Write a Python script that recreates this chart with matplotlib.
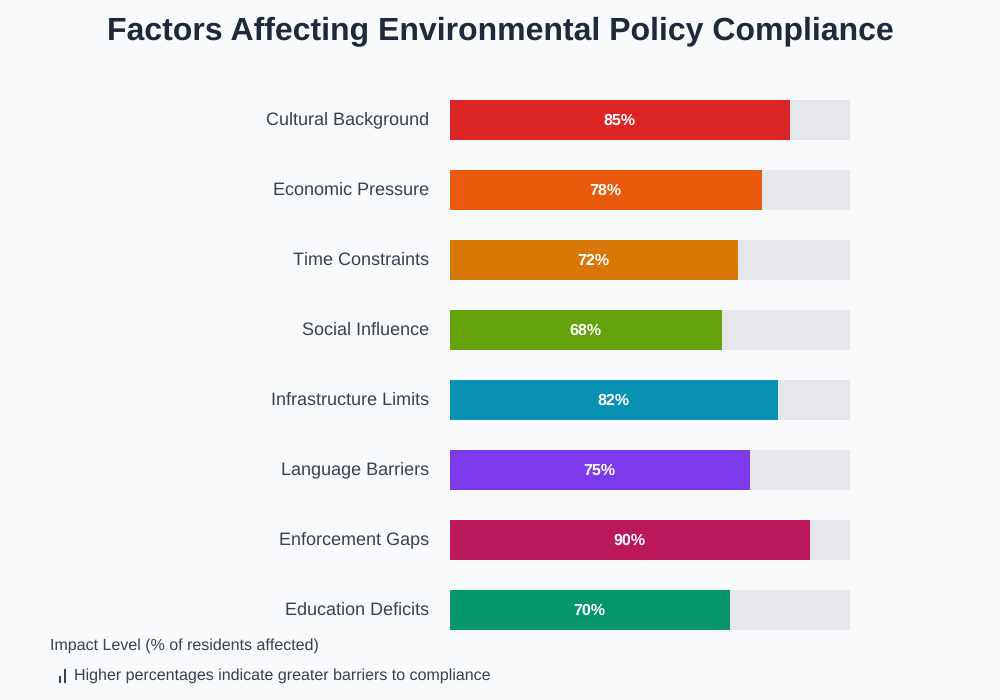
import matplotlib
matplotlib.use('Agg')
import matplotlib.pyplot as plt

plt.rcParams['font.family'] = ['Liberation Sans', 'DejaVu Sans']
plt.rcParams['text.hinting'] = 'no_hinting'
plt.rcParams['text.hinting_factor'] = 1

factors = ['Cultural Background', 'Economic Pressure', 'Time Constraints', 'Social Influence',
           'Infrastructure Limits', 'Language Barriers', 'Enforcement Gaps', 'Education Deficits']
values = [85, 78, 72, 68, 82, 75, 90, 70]
colors = ['#dc2626', '#ea580c', '#d97706', '#65a30d', '#0891b2', '#7c3aed', '#be185d', '#059669']

fig = plt.figure(figsize=(10, 7), dpi=100, facecolor='#f8fafc')

# axes box: x 450-850 px is 0-100 percent, y runs in pixels from the top
ax = fig.add_axes([0.45, 0, 0.40, 1])
ax.set_xlim(0, 100)
ax.set_ylim(700, 0)
ax.axis('off')

for i, (name, val, col) in enumerate(zip(factors, values, colors)):
    top = 100 + i * 70
    ax.barh(top + 20, 100, height=40, color='#e5e7eb', linewidth=0)
    ax.barh(top + 20, val, height=40, color=col, linewidth=0)
    ax.text(val / 2 - 0.1, top + 19.5, f'{val}%', color='white', fontsize=11.7, fontweight='bold',
            ha='center', va='center_baseline')
    fig.text(429 / 1000, 1 - (top + 18) / 700, name, color='#374151', fontsize=12.96,
             ha='right', va='center_baseline')

fig.text(0.5, 1 - 27.5 / 700, 'Factors Affecting Environmental Policy Compliance', color='#1e293b',
         fontsize=23.04, fontweight='bold', ha='center', va='center_baseline')
fig.text(50 / 1000, 1 - 643.5 / 700, 'Impact Level (% of residents affected)', color='#374151',
         fontsize=11.52, va='center_baseline')
fig.text(74 / 1000, 1 - 673.5 / 700, 'Higher percentages indicate greater barriers to compliance',
         color='#374151', fontsize=11.52, va='center_baseline')

# small bar glyph in front of the note
fig.add_artist(plt.Rectangle((59 / 1000, 1 - 682.5 / 700), 2 / 1000, 7 / 700, color='#374151', lw=0))
fig.add_artist(plt.Rectangle((64 / 1000, 1 - 682.5 / 700), 2 / 1000, 14 / 700, color='#374151', lw=0))

fig.savefig('out.png', dpi=100, facecolor=fig.get_facecolor())
